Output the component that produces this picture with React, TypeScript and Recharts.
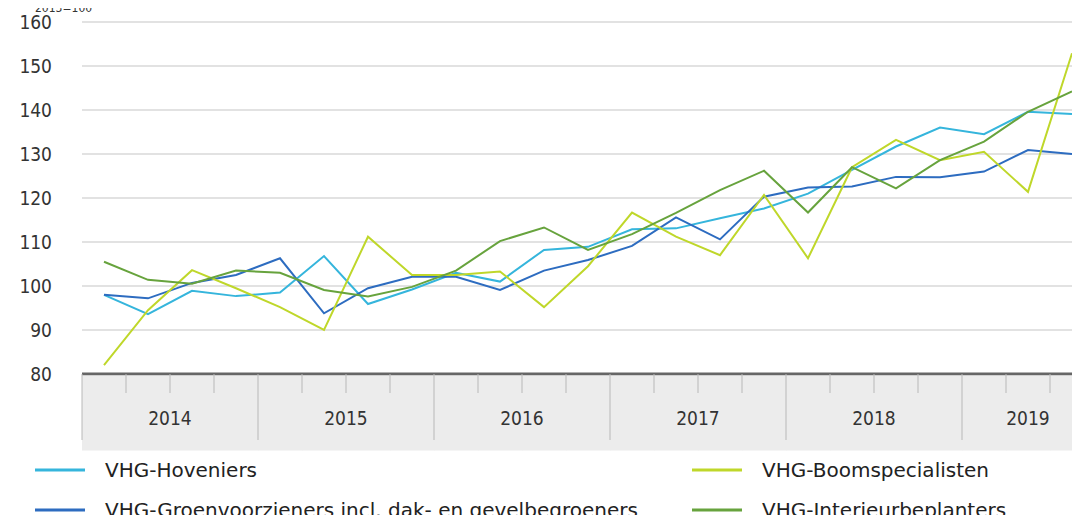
import React from "react";
import {CartesianGrid, Line, LineChart, XAxis, YAxis} from "recharts";

// kwartalen 2014 K1 t/m 2019 K3
const years = ["2014", "2015", "2016", "2017", "2018", "2019"];
const quarterCount = [4, 4, 4, 4, 4, 3];

const hoveniers = [98, 93.6, 98.9, 97.7, 98.5, 106.8, 95.9, 99.2, 103, 101, 108.2, 108.9, 112.9, 113.1, 115.4, 117.6, 121, 126.4, 131.7, 136, 134.5, 139.6, 139.1];
const groenvoorzieners = [98, 97.2, 100.7, 102.5, 106.3, 93.8, 99.5, 102.1, 102.1, 99.1, 103.5, 105.9, 109.1, 115.6, 110.6, 120.3, 122.4, 122.6, 124.8, 124.7, 126, 130.9, 130];
const boomspecialisten = [82, 94.5, 103.6, 99.5, 95.2, 90, 111.2, 102.5, 102.5, 103.3, 95.2, 104.5, 116.7, 111.2, 107, 120.7, 106.3, 127, 133.2, 128.6, 130.5, 121.4, 152.9];
const interieurbeplanters = [105.5, 101.4, 100.5, 103.5, 103, 99.1, 97.6, 99.8, 103.5, 110.2, 113.3, 108.2, 111.8, 116.6, 121.8, 126.2, 116.7, 127, 122.2, 128.6, 132.8, 139.6, 144.2];

const yTicks = [80, 90, 100, 110, 120, 130, 140, 150, 160];

const series = [
    {key: "hov", name: "VHG-Hoveniers", color: "#35b5dc", values: hoveniers},
    {key: "groen", name: "VHG-Groenvoorzieners incl. dak- en gevelbegroeners", color: "#2d6cc0", values: groenvoorzieners},
    {key: "boom", name: "VHG-Boomspecialisten", color: "#bfd72a", values: boomspecialisten},
    {key: "int", name: "VHG-Interieurbeplanters", color: "#67a33d", values: interieurbeplanters},
];

const data = [];
years.forEach((y, yi) => {
    for (let q = 1; q <= quarterCount[yi]; q++) {
        data.push({label: y + " K" + q, year: y, q: q, n: quarterCount[yi]});
    }
});
series.forEach(s => s.values.forEach((v, i) => { data[i][s.key] = v; }));

const W = 1100;
const H = 523;
const LEFT = 82;
const RIGHT = 6;
const STEP = (W - LEFT - RIGHT) / data.length;
const FONT = "'DejaVu Sans Condensed', 'DejaVu Sans', sans-serif";
const LEGEND_FONT = "'DejaVu Sans', sans-serif";

const QuarterTick = (props) => {
    const {x, y, index} = props;
    const d = data[index];
    if (!d) return null;
    const left = x - STEP / 2;
    const right = x + STEP / 2;
    return (
        <g>
            <rect x={left} y={y + 1.5} width={STEP + 0.5} height={75} fill="#ececec"/>
            {d.q === 1
                ? <line x1={left} x2={left} y1={y} y2={y + 66} stroke="#b8b8b8"/>
                : <line x1={left} x2={left} y1={y} y2={y + 19} stroke="#b8b8b8"/>}
            {d.q === d.n &&
                <text x={right - (d.n * STEP) / 2} y={y + 51} textAnchor="middle" fontSize={19} fill="#333" fontFamily={FONT}>{d.year}</text>}
        </g>
    );
};

const ValueTick = (props) => {
    const {y, payload} = props;
    return <text x={52} y={y + 7} textAnchor="end" fontSize={19} fill="#333" fontFamily={FONT}>{payload.value}</text>;
};

const LegendBlock = () => {
    const pos = [[35, 18], [35, 58], [692, 18], [692, 58]];
    return (
        <svg width={1080} height={71} style={{display: "block"}}>
            {series.map((s, i) => (
                <g key={s.key}>
                    <line x1={pos[i][0]} x2={pos[i][0] + 50} y1={pos[i][1]} y2={pos[i][1]} stroke={s.color} strokeWidth={3}/>
                    <text x={pos[i][0] + 70} y={pos[i][1] + 7} fontSize={20} fill="#222" fontFamily={LEGEND_FONT}>{s.name}</text>
                </g>
            ))}
        </svg>
    );
};

export default function App() {
    return (
        <div style={{margin: -8, width: 1080, height: H, overflow: "hidden", position: "relative", background: "#fff"}}>
            <LineChart width={W} height={H} data={data} margin={{top: 22, right: RIGHT, left: 0, bottom: 73}}>
                <text x={35} y={12} fontSize={12} fill="#333" fontFamily={FONT}>2013=100</text>
                <CartesianGrid vertical={false} stroke="#d9d9d9" strokeWidth={1.5}/>
                <XAxis dataKey="label" scale="band" interval={0} height={76} tickLine={false} tickSize={0} tickMargin={0}
                       axisLine={{stroke: "#666", strokeWidth: 3}} tick={<QuarterTick/>}/>
                <YAxis domain={[80, 160]} ticks={yTicks} width={LEFT} axisLine={false} tickLine={false}
                       tick={<ValueTick/>} interval={0}/>
                {series.map(s => (
                    <Line key={s.key} type="linear" dataKey={s.key} name={s.name} stroke={s.color} strokeWidth={2}
                          dot={false} isAnimationActive={false}/>
                ))}
            </LineChart>
            <div style={{position: "absolute", left: 0, top: 452}}>
                <LegendBlock/>
            </div>
        </div>
    );
}
